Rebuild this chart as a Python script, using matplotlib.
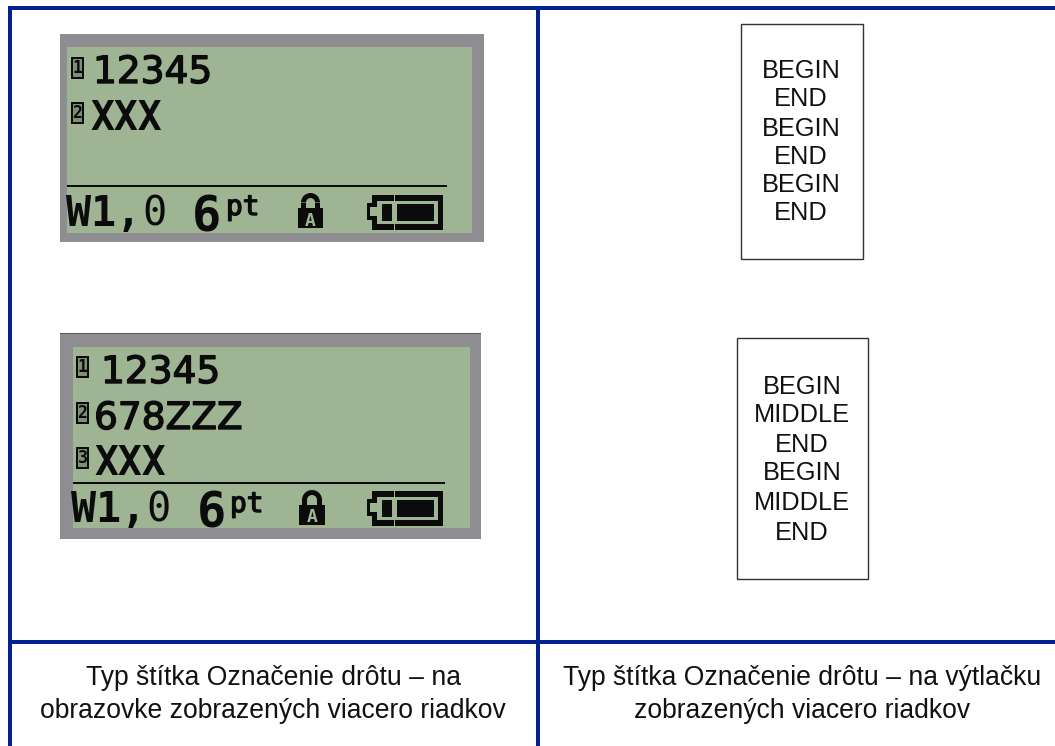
import matplotlib
matplotlib.use("Agg")
import matplotlib.pyplot as plt
import matplotlib.patheffects as pe
from matplotlib.patches import Rectangle, Wedge

W, H = 1055, 746
BLUE = "#05218f"
GRAY = "#8e8e92"
LCD = "#9fb493"
INK = "#0b0b0b"

screen_lines_a = ["12345", "XXX"]
screen_lines_b = ["12345", "678ZZZ", "XXX"]
screen_bold_a = [False, True]
screen_bold_b = [False, False, True]
status_width_bold = "W1,"
status_width_thin = "0"
status_size = "6"
status_unit = "pt"
label_lines_a = ["BEGIN", "END", "BEGIN", "END", "BEGIN", "END"]
label_lines_b = ["BEGIN", "MIDDLE", "END", "BEGIN", "MIDDLE", "END"]
caption_a = ["Typ štítka Označenie drôtu – na", "obrazovke zobrazených viacero riadkov"]
caption_b = ["Typ štítka Označenie drôtu – na výtlačku", "zobrazených viacero riadkov"]

fig = plt.figure(figsize=(W / 100, H / 100), dpi=100, facecolor="white")
ax = fig.add_axes([0, 0, 1, 1])
ax.set_xlim(0, W)
ax.set_ylim(H, 0)
ax.axis("off")

HEAVY = [pe.withStroke(linewidth=1.0, foreground=INK)]


def rect(x0, y0, x1, y1, color, z=1):
    ax.add_patch(Rectangle((x0, y0), x1 - x0, y1 - y0, facecolor=color, edgecolor="none", zorder=z))


# table rules
rect(8, 6, 12, H, BLUE, 5)
rect(536, 6, 540, H, BLUE, 5)
rect(8, 6, W, 10, BLUE, 5)
rect(8, 640, W, 644, BLUE, 5)


def battery(x0, y0, x1, y1):
    rect(x0 + 5, y0, x1, y1, INK, 3)
    rect(x0 + 10, y0 + 6, x1 - 5, y1 - 6, LCD, 3)
    rect(x0, y0 + 8, x0 + 6, y1 - 10, INK, 3)
    rect(x0 + 3, y0 + 12, x0 + 10, y1 - 14, LCD, 3)
    rect(x0 + 15, y0 + 9, x0 + 25, y1 - 9, INK, 4)
    rect(x0 + 30, y0 + 9, x1 - 9, y1 - 9, INK, 4)
    rect(x0 + 27, y0, x0 + 28, y1, LCD, 4)


def lock(x0, y0, x1, y1):
    cx = (x0 + x1) / 2
    w = x1 - x0
    r = w / 2 - 3
    ax.add_patch(Wedge((cx, y0 + r), r, 180, 360, width=5, facecolor=INK, edgecolor="none", zorder=3))
    rect(cx - r, y0 + r, cx - r + 5, y0 + 16, INK, 3)
    rect(cx + r - 5, y0 + r, cx + r, y0 + 16, INK, 3)
    rect(x0, y0 + 15, x1, y1, INK, 3)
    ax.text(cx, y1 - 2.5, "A", color=LCD, fontsize=13, fontweight="bold",
            family="DejaVu Sans Mono", ha="center", va="baseline", zorder=4)


def screen(outer, lcd, lines, bold, baselines, xs, badge_x, badge_ys, rule, st):
    rect(*outer, GRAY, 1)
    rect(*lcd, LCD, 2)
    for i, (t, b, y, x) in enumerate(zip(lines, bold, baselines, xs)):
        if b:
            ax.text(x, y, t, color=INK, family="DejaVu Sans Mono", fontsize=28.5,
                    fontweight="bold", ha="left", va="baseline", zorder=3)
        else:
            ax.text(x, y, t, color=INK, family="DejaVu Sans", fontsize=27,
                    ha="left", va="baseline", zorder=3, path_effects=HEAVY)
        rect(badge_x, badge_ys[i], badge_x + 13, badge_ys[i] + 22, INK, 3)
        rect(badge_x + 2, badge_ys[i] + 2, badge_x + 11, badge_ys[i] + 20, "#7f8f75", 3)
        ax.text(badge_x + 6.5, badge_ys[i] + 11, str(i + 1), color=INK, family="DejaVu Sans Mono",
                fontsize=12, fontweight="bold", ha="center", va="center", zorder=4)
    rect(rule[0], rule[1] - 1, rule[2], rule[1] + 1, INK, 3)
    ax.text(st["wx"], st["wy"], status_width_bold, color=INK, family="DejaVu Sans Mono", fontsize=30,
            fontweight="bold", ha="left", va="baseline", zorder=3)
    ax.text(st["zx"], st["wy"], status_width_thin, color=INK, family="DejaVu Sans Mono", fontsize=29,
            ha="left", va="baseline", zorder=3)
    ax.text(st["sx"], st["sy"], status_size, color=INK, family="DejaVu Sans Mono", fontsize=35,
            fontweight="bold", ha="left", va="baseline", zorder=3)
    ax.text(st["px"], st["py"], status_unit, color=INK, family="DejaVu Sans Mono", fontsize=20,
            ha="left", va="baseline", zorder=3, path_effects=HEAVY)
    lock(*st["lock"])
    battery(*st["batt"])


screen((60, 34, 484, 242), (67, 47, 472, 233), screen_lines_a, screen_bold_a,
       [83, 130], [93, 90], 71, [57, 102], (67, 186, 447),
       dict(wx=66, zx=142, wy=226, sx=192, sy=231, px=226, py=215,
            lock=(298, 193, 323, 228), batt=(367, 195, 443, 230)))
screen((60, 333, 481, 539), (73, 347, 470, 528), screen_lines_b, screen_bold_b,
       [383, 429, 475], [101, 94, 94], 76, [356, 402, 447], (73, 483, 445),
       dict(wx=71, zx=146, wy=522, sx=197, sy=527, px=230, py=512,
            lock=(299, 490, 325, 525), batt=(367, 491, 443, 526)))
rect(60, 333, 481, 334, "#55565a", 2)  # darker top edge of the second screen


def label(box, cx, ys, lines):
    ax.add_patch(Rectangle((box[0], box[1]), box[2] - box[0], box[3] - box[1], facecolor="white",
                           edgecolor="#333333", linewidth=1.0, zorder=1))
    for y, t in zip(ys, lines):
        ax.text(cx, y, t, color="#111111", family="Liberation Sans", fontsize=18.3,
                ha="center", va="center_baseline", zorder=2)


label((741, 24, 863, 259), 801, [69, 97, 126, 154, 182, 211], label_lines_a)
label((737, 338, 868, 579), 802, [385, 413, 443, 471, 501, 530], label_lines_b)

for cx, lines in ((273, caption_a), (802, caption_b)):
    for y, t in zip((678, 711), lines):
        ax.text(cx, y, t, color="#111111", family="Liberation Sans", fontsize=19.1,
                ha="center", va="center", zorder=2)

fig.savefig("out.png", dpi=100)
